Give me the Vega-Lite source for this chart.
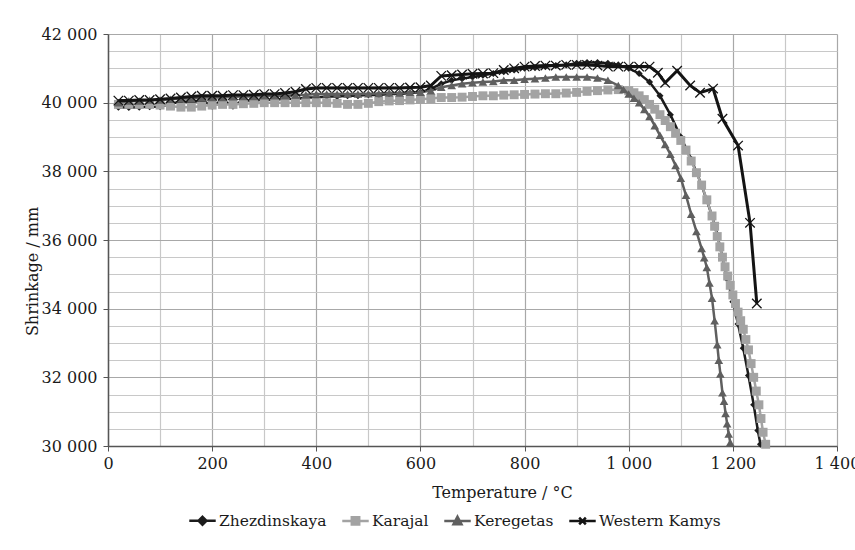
{
  "$schema": "https://vega.github.io/schema/vega-lite/v6.json",
  "width": 729,
  "height": 412,
  "autosize": {"type": "none"},
  "padding": {"left": 108, "top": 34, "right": 18, "bottom": 104},
  "background": "white",
  "config": {
    "font": "DejaVu Serif",
    "view": {"stroke": null},
    "axis": {"labelFont": "DejaVu Serif", "titleFont": "DejaVu Serif", "labelColor": "#1a1a1a", "titleColor": "#1a1a1a", "titleFontWeight": "normal", "labelFontSize": 16, "titleFontSize": 16},
    "legend": {"labelFont": "DejaVu Serif"}
  },
  "data": {"values": [
    {"series":"Zhezdinskaya","T":20,"S":39870},{"series":"Zhezdinskaya","T":40,"S":39860},{"series":"Zhezdinskaya","T":60,"S":39870},{"series":"Zhezdinskaya","T":80,"S":39880},{"series":"Zhezdinskaya","T":100,"S":39880},{"series":"Zhezdinskaya","T":120,"S":39950},{"series":"Zhezdinskaya","T":140,"S":40050},{"series":"Zhezdinskaya","T":160,"S":40000},{"series":"Zhezdinskaya","T":180,"S":40080},{"series":"Zhezdinskaya","T":200,"S":39900},{"series":"Zhezdinskaya","T":220,"S":40080},{"series":"Zhezdinskaya","T":240,"S":39900},{"series":"Zhezdinskaya","T":260,"S":40080},{"series":"Zhezdinskaya","T":280,"S":40050},{"series":"Zhezdinskaya","T":300,"S":40100},{"series":"Zhezdinskaya","T":320,"S":40080},{"series":"Zhezdinskaya","T":340,"S":40120},{"series":"Zhezdinskaya","T":360,"S":40100},{"series":"Zhezdinskaya","T":380,"S":40150},{"series":"Zhezdinskaya","T":400,"S":40150},{"series":"Zhezdinskaya","T":420,"S":40180},{"series":"Zhezdinskaya","T":440,"S":40180},{"series":"Zhezdinskaya","T":460,"S":40200},{"series":"Zhezdinskaya","T":480,"S":40200},{"series":"Zhezdinskaya","T":500,"S":40230},{"series":"Zhezdinskaya","T":520,"S":40220},{"series":"Zhezdinskaya","T":540,"S":40250},{"series":"Zhezdinskaya","T":560,"S":40250},{"series":"Zhezdinskaya","T":580,"S":40280},{"series":"Zhezdinskaya","T":600,"S":40300},{"series":"Zhezdinskaya","T":620,"S":40400},{"series":"Zhezdinskaya","T":640,"S":40550},{"series":"Zhezdinskaya","T":660,"S":40650},{"series":"Zhezdinskaya","T":680,"S":40700},{"series":"Zhezdinskaya","T":700,"S":40750},{"series":"Zhezdinskaya","T":720,"S":40800},{"series":"Zhezdinskaya","T":740,"S":40850},{"series":"Zhezdinskaya","T":760,"S":40900},{"series":"Zhezdinskaya","T":780,"S":40950},{"series":"Zhezdinskaya","T":800,"S":41000},{"series":"Zhezdinskaya","T":820,"S":41020},{"series":"Zhezdinskaya","T":840,"S":41050},{"series":"Zhezdinskaya","T":860,"S":41080},{"series":"Zhezdinskaya","T":880,"S":41100},{"series":"Zhezdinskaya","T":900,"S":41150},{"series":"Zhezdinskaya","T":920,"S":41170},{"series":"Zhezdinskaya","T":940,"S":41170},{"series":"Zhezdinskaya","T":960,"S":41150},{"series":"Zhezdinskaya","T":980,"S":41100},{"series":"Zhezdinskaya","T":1000,"S":41000},{"series":"Zhezdinskaya","T":1020,"S":40850},{"series":"Zhezdinskaya","T":1040,"S":40600},{"series":"Zhezdinskaya","T":1060,"S":40200},{"series":"Zhezdinskaya","T":1080,"S":39650},{"series":"Zhezdinskaya","T":1100,"S":39000},{"series":"Zhezdinskaya","T":1120,"S":38350},{"series":"Zhezdinskaya","T":1140,"S":37600},{"series":"Zhezdinskaya","T":1160,"S":36700},{"series":"Zhezdinskaya","T":1170,"S":36150},{"series":"Zhezdinskaya","T":1180,"S":35500},{"series":"Zhezdinskaya","T":1190,"S":34850},{"series":"Zhezdinskaya","T":1200,"S":34200},{"series":"Zhezdinskaya","T":1210,"S":33550},{"series":"Zhezdinskaya","T":1220,"S":32850},{"series":"Zhezdinskaya","T":1230,"S":32050},{"series":"Zhezdinskaya","T":1240,"S":31200},{"series":"Zhezdinskaya","T":1248,"S":30450},{"series":"Zhezdinskaya","T":1253,"S":30050},
    {"series":"Karajal","T":20,"S":39950},{"series":"Karajal","T":40,"S":39950},{"series":"Karajal","T":60,"S":39950},{"series":"Karajal","T":80,"S":39950},{"series":"Karajal","T":100,"S":39930},{"series":"Karajal","T":120,"S":39900},{"series":"Karajal","T":140,"S":39870},{"series":"Karajal","T":160,"S":39870},{"series":"Karajal","T":180,"S":39900},{"series":"Karajal","T":200,"S":39930},{"series":"Karajal","T":220,"S":39950},{"series":"Karajal","T":240,"S":39950},{"series":"Karajal","T":260,"S":39970},{"series":"Karajal","T":280,"S":39980},{"series":"Karajal","T":300,"S":40000},{"series":"Karajal","T":320,"S":40000},{"series":"Karajal","T":340,"S":40000},{"series":"Karajal","T":360,"S":40000},{"series":"Karajal","T":380,"S":40000},{"series":"Karajal","T":400,"S":40000},{"series":"Karajal","T":420,"S":40000},{"series":"Karajal","T":440,"S":39980},{"series":"Karajal","T":460,"S":39950},{"series":"Karajal","T":480,"S":39950},{"series":"Karajal","T":500,"S":39980},{"series":"Karajal","T":520,"S":40030},{"series":"Karajal","T":540,"S":40050},{"series":"Karajal","T":560,"S":40060},{"series":"Karajal","T":580,"S":40080},{"series":"Karajal","T":600,"S":40100},{"series":"Karajal","T":620,"S":40120},{"series":"Karajal","T":640,"S":40150},{"series":"Karajal","T":660,"S":40150},{"series":"Karajal","T":680,"S":40160},{"series":"Karajal","T":700,"S":40180},{"series":"Karajal","T":720,"S":40200},{"series":"Karajal","T":740,"S":40200},{"series":"Karajal","T":760,"S":40220},{"series":"Karajal","T":780,"S":40230},{"series":"Karajal","T":800,"S":40240},{"series":"Karajal","T":820,"S":40250},{"series":"Karajal","T":840,"S":40260},{"series":"Karajal","T":860,"S":40260},{"series":"Karajal","T":880,"S":40280},{"series":"Karajal","T":900,"S":40300},{"series":"Karajal","T":920,"S":40330},{"series":"Karajal","T":940,"S":40350},{"series":"Karajal","T":960,"S":40370},{"series":"Karajal","T":980,"S":40380},{"series":"Karajal","T":1000,"S":40350},{"series":"Karajal","T":1010,"S":40290},{"series":"Karajal","T":1020,"S":40200},{"series":"Karajal","T":1030,"S":40090},{"series":"Karajal","T":1040,"S":39950},{"series":"Karajal","T":1050,"S":39810},{"series":"Karajal","T":1060,"S":39650},{"series":"Karajal","T":1070,"S":39480},{"series":"Karajal","T":1080,"S":39300},{"series":"Karajal","T":1090,"S":39110},{"series":"Karajal","T":1100,"S":38900},{"series":"Karajal","T":1110,"S":38620},{"series":"Karajal","T":1120,"S":38300},{"series":"Karajal","T":1130,"S":37960},{"series":"Karajal","T":1140,"S":37600},{"series":"Karajal","T":1150,"S":37170},{"series":"Karajal","T":1160,"S":36700},{"series":"Karajal","T":1165,"S":36400},{"series":"Karajal","T":1170,"S":36100},{"series":"Karajal","T":1175,"S":35800},{"series":"Karajal","T":1180,"S":35500},{"series":"Karajal","T":1185,"S":35220},{"series":"Karajal","T":1190,"S":34950},{"series":"Karajal","T":1195,"S":34680},{"series":"Karajal","T":1200,"S":34400},{"series":"Karajal","T":1205,"S":34150},{"series":"Karajal","T":1210,"S":33900},{"series":"Karajal","T":1215,"S":33650},{"series":"Karajal","T":1220,"S":33400},{"series":"Karajal","T":1225,"S":33100},{"series":"Karajal","T":1230,"S":32800},{"series":"Karajal","T":1235,"S":32400},{"series":"Karajal","T":1240,"S":32000},{"series":"Karajal","T":1245,"S":31600},{"series":"Karajal","T":1250,"S":31200},{"series":"Karajal","T":1254,"S":30800},{"series":"Karajal","T":1258,"S":30400},{"series":"Karajal","T":1263,"S":30050},
    {"series":"Keregetas","T":20,"S":40000},{"series":"Keregetas","T":40,"S":40050},{"series":"Keregetas","T":60,"S":40050},{"series":"Keregetas","T":80,"S":40080},{"series":"Keregetas","T":100,"S":40080},{"series":"Keregetas","T":120,"S":40100},{"series":"Keregetas","T":140,"S":40120},{"series":"Keregetas","T":160,"S":40120},{"series":"Keregetas","T":180,"S":40150},{"series":"Keregetas","T":200,"S":40150},{"series":"Keregetas","T":220,"S":40150},{"series":"Keregetas","T":240,"S":40170},{"series":"Keregetas","T":260,"S":40180},{"series":"Keregetas","T":280,"S":40180},{"series":"Keregetas","T":300,"S":40200},{"series":"Keregetas","T":320,"S":40200},{"series":"Keregetas","T":340,"S":40200},{"series":"Keregetas","T":360,"S":40220},{"series":"Keregetas","T":380,"S":40230},{"series":"Keregetas","T":400,"S":40250},{"series":"Keregetas","T":420,"S":40250},{"series":"Keregetas","T":440,"S":40250},{"series":"Keregetas","T":460,"S":40250},{"series":"Keregetas","T":480,"S":40250},{"series":"Keregetas","T":500,"S":40260},{"series":"Keregetas","T":520,"S":40270},{"series":"Keregetas","T":540,"S":40280},{"series":"Keregetas","T":560,"S":40280},{"series":"Keregetas","T":580,"S":40300},{"series":"Keregetas","T":600,"S":40300},{"series":"Keregetas","T":620,"S":40350},{"series":"Keregetas","T":640,"S":40450},{"series":"Keregetas","T":660,"S":40500},{"series":"Keregetas","T":680,"S":40550},{"series":"Keregetas","T":700,"S":40580},{"series":"Keregetas","T":720,"S":40600},{"series":"Keregetas","T":740,"S":40620},{"series":"Keregetas","T":760,"S":40650},{"series":"Keregetas","T":780,"S":40650},{"series":"Keregetas","T":800,"S":40680},{"series":"Keregetas","T":820,"S":40700},{"series":"Keregetas","T":840,"S":40720},{"series":"Keregetas","T":860,"S":40750},{"series":"Keregetas","T":880,"S":40750},{"series":"Keregetas","T":900,"S":40750},{"series":"Keregetas","T":920,"S":40750},{"series":"Keregetas","T":940,"S":40720},{"series":"Keregetas","T":960,"S":40650},{"series":"Keregetas","T":980,"S":40500},{"series":"Keregetas","T":990,"S":40380},{"series":"Keregetas","T":1000,"S":40250},{"series":"Keregetas","T":1010,"S":40130},{"series":"Keregetas","T":1020,"S":40000},{"series":"Keregetas","T":1030,"S":39800},{"series":"Keregetas","T":1040,"S":39600},{"series":"Keregetas","T":1050,"S":39330},{"series":"Keregetas","T":1060,"S":39050},{"series":"Keregetas","T":1070,"S":38780},{"series":"Keregetas","T":1080,"S":38500},{"series":"Keregetas","T":1090,"S":38170},{"series":"Keregetas","T":1100,"S":37800},{"series":"Keregetas","T":1110,"S":37300},{"series":"Keregetas","T":1120,"S":36750},{"series":"Keregetas","T":1130,"S":36250},{"series":"Keregetas","T":1140,"S":35750},{"series":"Keregetas","T":1145,"S":35480},{"series":"Keregetas","T":1150,"S":35200},{"series":"Keregetas","T":1155,"S":34750},{"series":"Keregetas","T":1160,"S":34300},{"series":"Keregetas","T":1165,"S":33650},{"series":"Keregetas","T":1170,"S":32950},{"series":"Keregetas","T":1173,"S":32500},{"series":"Keregetas","T":1176,"S":32100},{"series":"Keregetas","T":1180,"S":31550},{"series":"Keregetas","T":1183,"S":31300},{"series":"Keregetas","T":1186,"S":30950},{"series":"Keregetas","T":1189,"S":30650},{"series":"Keregetas","T":1192,"S":30350},{"series":"Keregetas","T":1195,"S":30100},
    {"series":"Western Kamys","T":20,"S":40060},{"series":"Western Kamys","T":40,"S":40060},{"series":"Western Kamys","T":60,"S":40080},{"series":"Western Kamys","T":80,"S":40080},{"series":"Western Kamys","T":100,"S":40100},{"series":"Western Kamys","T":120,"S":40120},{"series":"Western Kamys","T":140,"S":40150},{"series":"Western Kamys","T":160,"S":40180},{"series":"Western Kamys","T":180,"S":40200},{"series":"Western Kamys","T":200,"S":40200},{"series":"Western Kamys","T":220,"S":40200},{"series":"Western Kamys","T":240,"S":40220},{"series":"Western Kamys","T":260,"S":40220},{"series":"Western Kamys","T":280,"S":40230},{"series":"Western Kamys","T":300,"S":40250},{"series":"Western Kamys","T":320,"S":40250},{"series":"Western Kamys","T":340,"S":40280},{"series":"Western Kamys","T":360,"S":40320},{"series":"Western Kamys","T":380,"S":40400},{"series":"Western Kamys","T":400,"S":40430},{"series":"Western Kamys","T":420,"S":40430},{"series":"Western Kamys","T":440,"S":40430},{"series":"Western Kamys","T":460,"S":40430},{"series":"Western Kamys","T":480,"S":40430},{"series":"Western Kamys","T":500,"S":40430},{"series":"Western Kamys","T":520,"S":40430},{"series":"Western Kamys","T":540,"S":40430},{"series":"Western Kamys","T":560,"S":40430},{"series":"Western Kamys","T":580,"S":40440},{"series":"Western Kamys","T":600,"S":40450},{"series":"Western Kamys","T":620,"S":40500},{"series":"Western Kamys","T":640,"S":40780},{"series":"Western Kamys","T":660,"S":40800},{"series":"Western Kamys","T":680,"S":40820},{"series":"Western Kamys","T":700,"S":40840},{"series":"Western Kamys","T":720,"S":40850},{"series":"Western Kamys","T":740,"S":40860},{"series":"Western Kamys","T":760,"S":40950},{"series":"Western Kamys","T":780,"S":41000},{"series":"Western Kamys","T":800,"S":41050},{"series":"Western Kamys","T":820,"S":41070},{"series":"Western Kamys","T":840,"S":41080},{"series":"Western Kamys","T":860,"S":41080},{"series":"Western Kamys","T":880,"S":41100},{"series":"Western Kamys","T":900,"S":41100},{"series":"Western Kamys","T":920,"S":41100},{"series":"Western Kamys","T":940,"S":41080},{"series":"Western Kamys","T":960,"S":41050},{"series":"Western Kamys","T":980,"S":41050},{"series":"Western Kamys","T":1000,"S":41050},{"series":"Western Kamys","T":1020,"S":41050},{"series":"Western Kamys","T":1040,"S":41050},{"series":"Western Kamys","T":1056,"S":40870},{"series":"Western Kamys","T":1070,"S":40580},{"series":"Western Kamys","T":1093,"S":40930},{"series":"Western Kamys","T":1118,"S":40500},{"series":"Western Kamys","T":1137,"S":40290},{"series":"Western Kamys","T":1162,"S":40410},{"series":"Western Kamys","T":1180,"S":39530},{"series":"Western Kamys","T":1210,"S":38750},{"series":"Western Kamys","T":1233,"S":36500},{"series":"Western Kamys","T":1246,"S":34150}
  ]},
  "encoding": {
    "x": {"field": "T", "type": "quantitative", "title": "Temperature / °C",
      "scale": {"domain": [0, 1400], "nice": false, "zero": false},
      "axis": {"values": [0,100,200,300,400,500,600,700,800,900,1000,1100,1200,1300,1400],
        "labelExpr": "datum.value % 200 === 0 ? replace(format(datum.value, ','), ',', ' ') : ''",
        "labelOverlap": false, "labelFlush": false,
        "domainColor": "#555", "domainWidth": 1.5,
        "tickColor": "#555", "tickSize": 5, "labelPadding": 4,
        "tickOpacity": {"condition": {"test": "datum.value % 200 === 0", "value": 1}, "value": 0},
        "gridColor": {"condition": {"test": "datum.value % 200 === 0", "value": "#a8a8a8"}, "value": "#c8c8c8"},
        "gridWidth": 1.2,
        "titleX": 394, "titleY": 46, "titleBaseline": "middle", "titleAlign": "center"}},
    "y": {"field": "S", "type": "quantitative", "title": "Shrinkage / mm",
      "scale": {"domain": [30000, 42000], "nice": false, "zero": false},
      "axis": {"values": [30000,30500,31000,31500,32000,32500,33000,33500,34000,34500,35000,35500,36000,36500,37000,37500,38000,38500,39000,39500,40000,40500,41000,41500,42000],
        "labelExpr": "datum.value % 2000 === 0 ? replace(format(datum.value, ','), ',', ' ') : ''",
        "labelOverlap": false, "labelFlush": false,
        "domainColor": "#555", "domainWidth": 1.5,
        "tickColor": "#555", "tickSize": 5, "labelPadding": 6,
        "tickOpacity": {"condition": {"test": "datum.value % 2000 === 0", "value": 1}, "value": 0},
        "gridColor": {"condition": {"test": "datum.value % 2000 === 0", "value": "#a8a8a8"}, "value": "#c8c8c8"},
        "gridWidth": 1.2,
        "titleX": -76, "titleY": 237, "titleBaseline": "middle", "titleAlign": "center", "titleAngle": -90}},
    "color": {"field": "series", "type": "nominal",
      "scale": {"domain": ["Zhezdinskaya", "Karajal", "Keregetas", "Western Kamys"], "range": ["#1c1c1c", "#a3a3a3", "#5f5f5f", "#141414"]},
      "legend": {"title": null, "orient": "none", "legendX": 80, "legendY": 472, "direction": "horizontal", "columns": 4,
        "labelFont": "DejaVu Serif", "labelFontSize": 15.5, "labelColor": "#1a1a1a", "labelOffset": 2, "columnPadding": 10,
        "symbolSize": 700, "symbolStrokeWidth": 2.5,
        "encode": {"symbols": {"update": {
          "shape": {"signal": "datum.value === 'Zhezdinskaya' ? 'M-1,0L1,0M0,-0.3L0.3,0L0,0.3L-0.3,0Z' : datum.value === 'Karajal' ? 'M-1,0L1,0M-0.28,-0.28L0.28,-0.28L0.28,0.28L-0.28,0.28Z' : datum.value === 'Keregetas' ? 'M-1,0L1,0M0,-0.32L0.3,0.24L-0.3,0.24Z' : 'M-1,0L1,0M-0.25,-0.25L0.25,0.25M-0.25,0.25L0.25,-0.25'"},
          "fill": {"signal": "scale('color', datum.value)"},
          "stroke": {"signal": "scale('color', datum.value)"},
          "strokeWidth": {"value": 2.5},
          "size": {"value": 700}
        }}}}
    }
  },
  "layer": [
    {"transform": [{"filter": "datum.series === 'Zhezdinskaya'"}],
     "mark": {"type": "line", "strokeWidth": 2.5, "point": {"shape": "diamond", "filled": true, "size": 50, "opacity": 1}}},
    {"transform": [{"filter": "datum.series === 'Karajal'"}],
     "mark": {"type": "line", "strokeWidth": 2.5, "point": {"shape": "square", "filled": true, "size": 80, "opacity": 1}}},
    {"transform": [{"filter": "datum.series === 'Keregetas'"}],
     "mark": {"type": "line", "strokeWidth": 2.5, "point": {"shape": "triangle-up", "filled": true, "size": 75, "opacity": 1}}},
    {"transform": [{"filter": "datum.series === 'Western Kamys'"}],
     "mark": {"type": "line", "strokeWidth": 3, "point": {"shape": "M-1,-1L1,1M-1,1L1,-1", "filled": false, "size": 90, "strokeWidth": 1.3, "opacity": 1}}}
  ]
}
